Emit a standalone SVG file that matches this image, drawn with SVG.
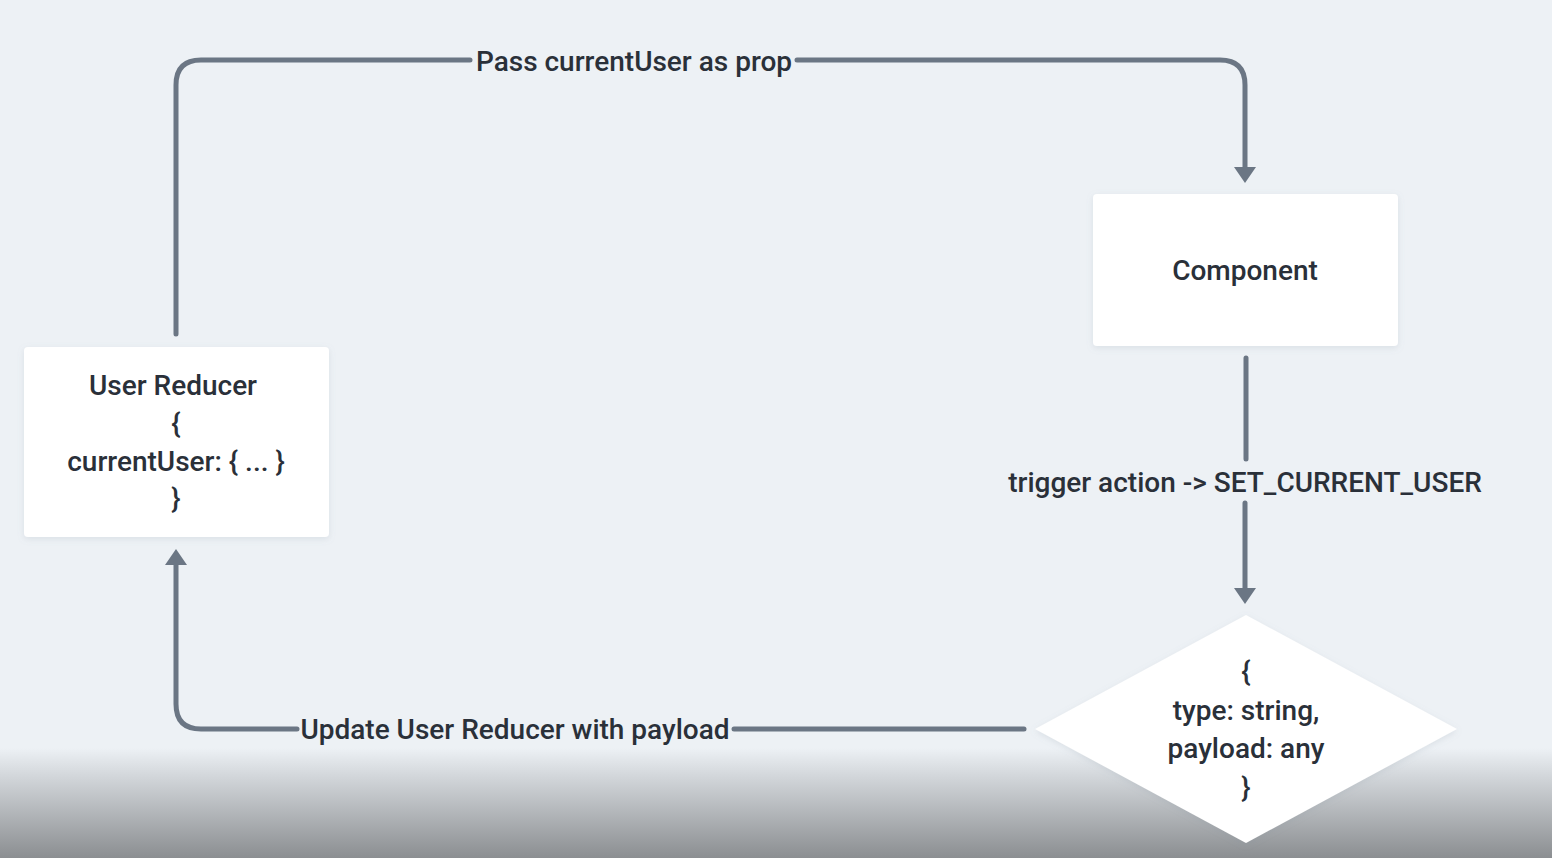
<svg xmlns="http://www.w3.org/2000/svg" width="1552" height="858" viewBox="0 0 1552 858">
<defs>
<style>
.bg{fill:#edf1f5}
.node{fill:#ffffff;filter:url(#sh)}
.edge{fill:none;stroke:#6b7684;stroke-width:5;stroke-linecap:round;stroke-linejoin:round}
.lbl{font-family:Roboto,"Liberation Sans",sans-serif;font-size:28px;font-weight:500;fill:#2a3039;text-anchor:middle}
</style>
<filter id="sh" x="-10%" y="-10%" width="120%" height="130%">
<feDropShadow dx="0" dy="2" stdDeviation="3" flood-color="#8090a0" flood-opacity="0.18"/>
</filter>
<marker id="arr" markerUnits="userSpaceOnUse" markerWidth="16" markerHeight="22" viewBox="0 0 16 22" refX="2" refY="11" orient="auto">
<path d="M0 0 L16 11 L0 22 Z" fill="#6b7684"/>
</marker>
<linearGradient id="fade" x1="0" y1="0" x2="0" y2="1">
<stop offset="0" stop-color="#edf1f5"/>
<stop offset="0.25" stop-color="#d3d7db"/>
<stop offset="1" stop-color="#8b8e91"/>
</linearGradient>
</defs>
<rect class="bg" x="0" y="0" width="1552" height="858"/>
<rect x="0" y="748" width="1552" height="110" fill="url(#fade)"/>

<g id="connectors">
<path class="edge" d="M176 334 V85 Q176 60 201 60 H470"/>
<path class="edge" d="M797 60 H1220 Q1245 60 1245 85 V169" marker-end="url(#arr)"/>
<text class="lbl" x="634" y="71">Pass currentUser as prop</text>
<path class="edge" d="M1246 358 V459"/>
<path class="edge" d="M1245 503 V590" marker-end="url(#arr)"/>
<text class="lbl" x="1245" y="492">trigger action -&gt; SET_CURRENT_USER</text>
<path class="edge" d="M1024 729 H734"/>
<path class="edge" d="M297 729 H201 Q176 729 176 704 V563" marker-end="url(#arr)"/>
<text class="lbl" x="515" y="739">Update User Reducer with payload</text>
</g>

<g id="user-reducer">
<rect class="node" x="24" y="347" width="305" height="190" rx="4"/>
<text class="lbl" x="173" y="395">User Reducer</text>
<text class="lbl" x="176" y="433">{</text>
<text class="lbl" x="176" y="471">currentUser: { ... }</text>
<text class="lbl" x="176" y="508">}</text>
</g>

<g id="component">
<rect class="node" x="1093" y="194" width="305" height="152" rx="4"/>
<text class="lbl" x="1245" y="280">Component</text>
</g>

<g id="action">
<polygon class="node" points="1246,615 1457,729 1246,843 1035,729"/>
<text class="lbl" x="1246" y="681">{</text>
<text class="lbl" x="1246" y="720">type: string,</text>
<text class="lbl" x="1246" y="758">payload: any</text>
<text class="lbl" x="1246" y="797">}</text>
</g>
</svg>
